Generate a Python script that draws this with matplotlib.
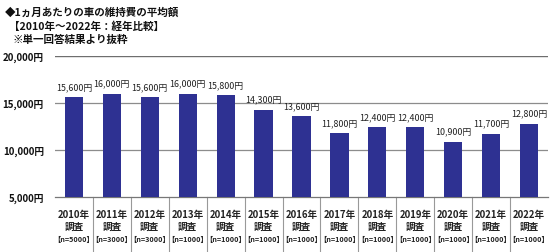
import matplotlib
matplotlib.use("Agg")
import matplotlib.pyplot as plt
import matplotlib.transforms as mtransforms

plt.rcParams['font.family'] = ['Noto Sans CJK JP', 'DejaVu Sans']

years = ["2010年", "2011年", "2012年", "2013年", "2014年", "2015年", "2016年",
         "2017年", "2018年", "2019年", "2020年", "2021年", "2022年"]
samples = ["【n=5000】", "【n=3000】", "【n=3000】", "【n=1000】", "【n=1000】", "【n=1000】",
           "【n=1000】", "【n=1000】", "【n=1000】", "【n=1000】", "【n=1000】", "【n=1000】", "【n=1000】"]
values = [15600, 16000, 15600, 16000, 15800, 14300, 13600, 11800, 12400, 12400, 10900, 11700, 12800]
yticks = [5000, 10000, 15000, 20000]

fig = plt.figure(figsize=(5.5, 2.53), dpi=100)
ax = fig.add_axes([55/550, 1-198/253, 493/550, 141/253])

x = list(range(len(values)))
ax.bar(x, values, width=0.48, color="#2e3192", zorder=3)
ax.set_xlim(-0.5, len(values) - 0.5)
ax.set_ylim(5000, 20000)

for xi, v in zip(x, values):
    ax.annotate(f"{v:,}円", (xi, v), xytext=(0, 4.5), textcoords="offset points",
                ha="center", va="bottom", fontsize=6.4, color="#222222")

ax.set_yticks(yticks)
ax.set_yticklabels([f"{t:,}円" for t in yticks], fontsize=7.0, fontweight="bold",
                   color="#111111")
ax.tick_params(axis="y", length=0, pad=8)
for t in [10000, 15000]:
    ax.axhline(t, color="#8c8c8c", lw=0.9, zorder=1)
ax.axhline(20000, color="#6e6e6e", lw=1.0, zorder=1)

for s in ["left", "right", "top"]:
    ax.spines[s].set_visible(False)
ax.spines["bottom"].set_color("#777777")
ax.spines["bottom"].set_linewidth(0.9)

ax.set_xticks([])
trans = mtransforms.blended_transform_factory(ax.transData, ax.transAxes)
for b in range(1, len(values)):
    ax.plot([b - 0.5, b - 0.5], [0, -55/141], transform=trans, color="#999999",
            lw=0.8, clip_on=False)
for xi, yr, n in zip(x, years, samples):
    ax.text(xi, -17/141, yr, transform=trans, ha="center", va="center",
            fontsize=6.9, fontweight="bold", color="#222222")
    ax.text(xi, -29/141, "調査", transform=trans, ha="center", va="center",
            fontsize=6.9, fontweight="bold", color="#222222")
    ax.text(xi, -41/141, n, transform=trans, ha="center", va="center",
            fontsize=5.2, fontweight="bold", color="#222222")

fig.text(5/550, 1-13/253, "◆1ヵ月あたりの車の維持費の平均額", fontsize=7.6,
         fontweight="bold", va="center", ha="left", color="#111111")
fig.text(9/550, 1-27/253, "【2010年～2022年：経年比較】", fontsize=7.6,
         fontweight="bold", va="center", ha="left", color="#111111")
fig.text(12/550, 1-40/253, "※単一回答結果より抜粋", fontsize=7.6,
         fontweight="bold", va="center", ha="left", color="#111111")

fig.savefig("out.png", dpi=100)
